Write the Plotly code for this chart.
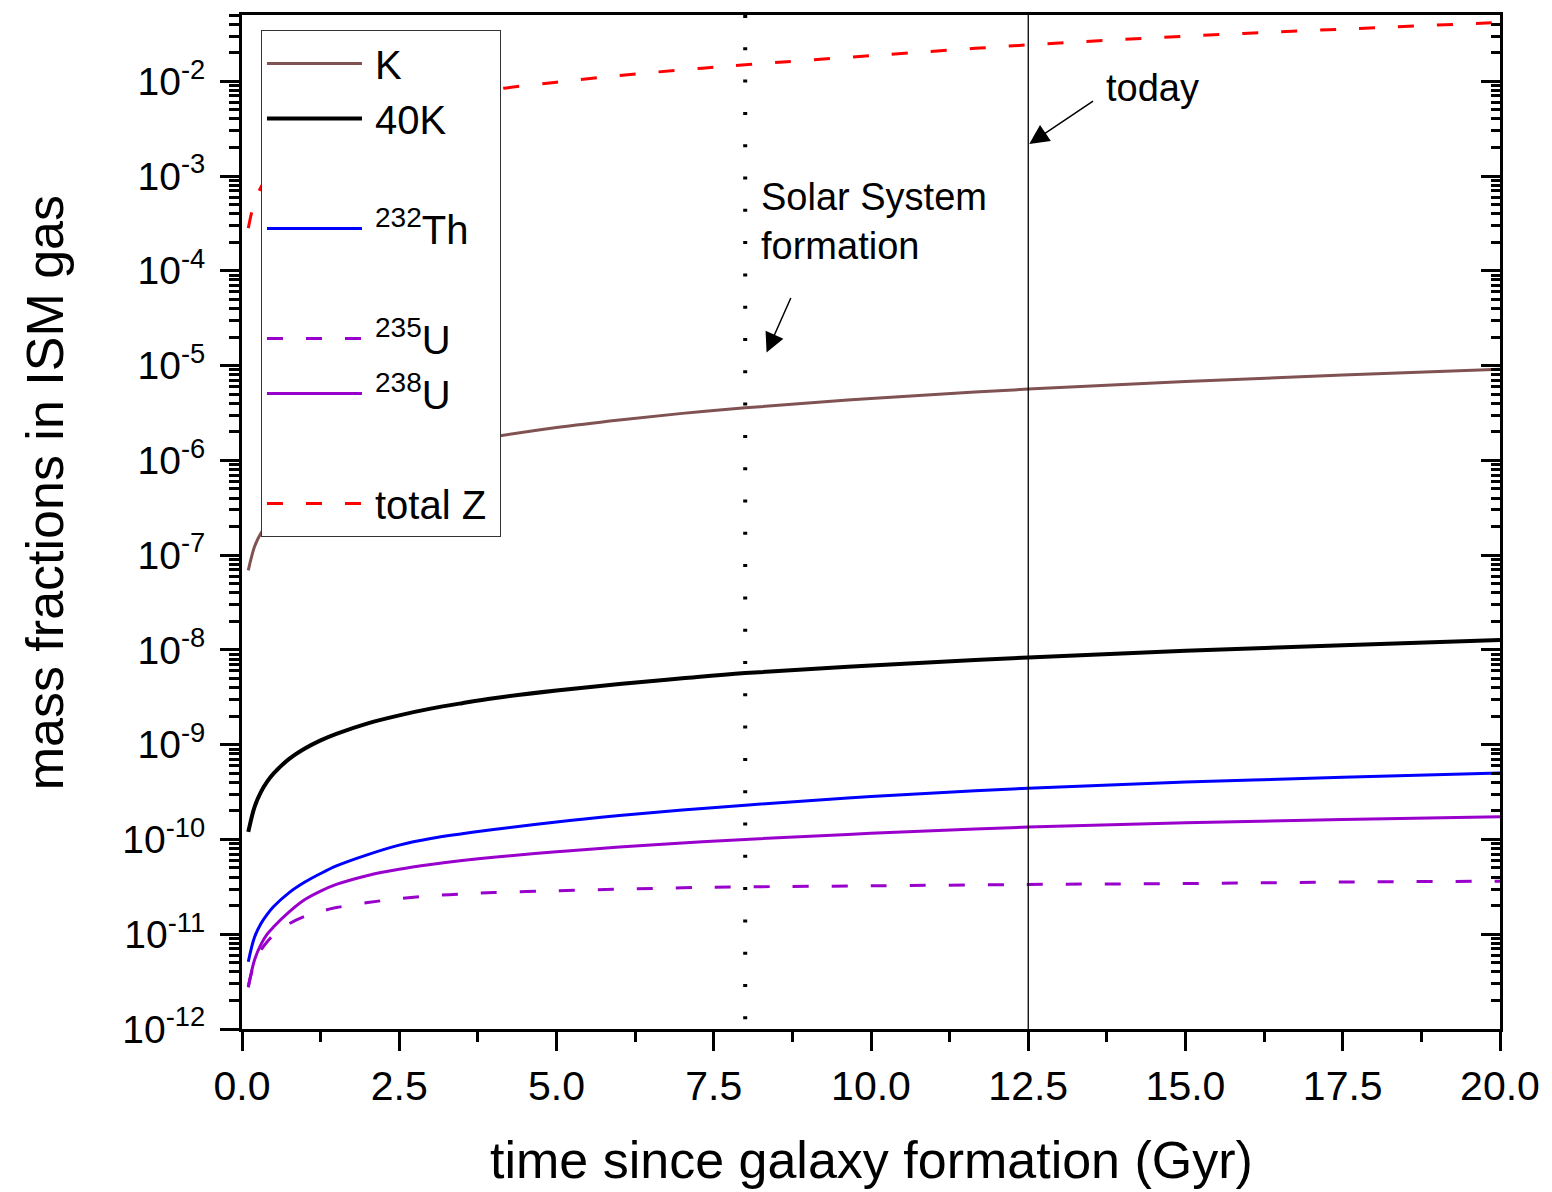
import plotly.graph_objects as go

# ---------------- data ----------------
t_gyr = [0.1, 0.2, 0.3, 0.4, 0.5, 0.75, 1.0, 1.25, 1.5, 2.0, 2.5, 3.0, 3.5, 4.0,
         5.0, 6.0, 7.0, 8.0, 10.0, 12.5, 15.0, 17.5, 20.0]

K_total = [6.9e-8, 1.23e-7, 1.70e-7, 2.09e-7, 2.45e-7, 3.31e-7, 4.27e-7, 5.37e-7, 6.46e-7,
           8.71e-7, 1.10e-6, 1.32e-6, 1.55e-6, 1.77e-6, 2.22e-6, 2.67e-6, 3.13e-6, 3.58e-6,
           4.50e-6, 5.65e-6, 6.79e-6, 7.94e-6, 9.12e-6]

K40 = [1.20e-10, 2.21e-10, 3.16e-10, 4.07e-10, 4.95e-10, 7.08e-10, 9.12e-10, 1.11e-9, 1.30e-9,
       1.68e-9, 2.04e-9, 2.40e-9, 2.74e-9, 3.09e-9, 3.72e-9, 4.37e-9, 5.01e-9, 5.69e-9,
       6.84e-9, 8.32e-9, 9.77e-9, 1.12e-8, 1.27e-8]

Th232 = [5.13e-12, 9.33e-12, 1.29e-11, 1.62e-11, 1.95e-11, 2.75e-11, 3.55e-11, 4.37e-11, 5.25e-11,
         6.92e-11, 8.71e-11, 1.023e-10, 1.148e-10, 1.274e-10, 1.531e-10, 1.786e-10, 2.042e-10,
         2.301e-10, 2.831e-10, 3.47e-10, 4.03e-10, 4.52e-10, 5.01e-10]

U235 = [2.82e-12, 5.01e-12, 6.76e-12, 8.32e-12, 9.77e-12, 1.29e-11, 1.55e-11, 1.74e-11, 1.91e-11,
        2.16e-11, 2.37e-11, 2.54e-11, 2.66e-11, 2.75e-11, 2.88e-11, 2.99e-11, 3.09e-11, 3.16e-11,
        3.24e-11, 3.35e-11, 3.43e-11, 3.55e-11, 3.63e-11]

U238 = [2.75e-12, 5.37e-12, 7.76e-12, 1.0e-11, 1.19e-11, 1.72e-11, 2.32e-11, 2.85e-11, 3.35e-11,
        4.17e-11, 4.84e-11, 5.43e-11, 5.98e-11, 6.49e-11, 7.41e-11, 8.32e-11, 9.18e-11, 1.0e-10,
        1.16e-10, 1.35e-10, 1.50e-10, 1.62e-10, 1.74e-10]

Z_total = [2.82e-4, 5.37e-4, 7.59e-4, 9.77e-4, 1.17e-3, 1.66e-3, 2.14e-3, 2.57e-3, 3.02e-3,
           3.89e-3, 4.9e-3, 5.89e-3, 6.92e-3, 8.13e-3, 9.77e-3, 1.15e-2, 1.32e-2, 1.49e-2,
           1.86e-2, 2.42e-2, 2.99e-2, 3.55e-2, 4.17e-2]

solar_formation_gyr = 8.0
today_gyr = 12.5

x_ticks = [0.0, 2.5, 5.0, 7.5, 10.0, 12.5, 15.0, 17.5, 20.0]
y_exponents = list(range(-12, -1))
y_tick_labels = ["10<sup>%d</sup>" % e for e in y_exponents]

# ---------------- geometry helpers ----------------
W, H = 1552, 1192
ML, MR, MT, MB = 242, 50, 15, 163
PW, PH = W - ML - MR, H - MT - MB


def px(x):
    return (x - ML) / PW


def py(y):
    return (H - MB - y) / PH


FONT = "Liberation Sans, Arial, sans-serif"
DASH = "16px,23px"
SP = "\u2009"

fig = go.Figure()

series = [
    ("K", K_total, "#805252", 3, None, "g1", "y"),
    ("40K", K40, "black", 4, None, "g1", "y"),
    ("<sup>232</sup>Th", Th232, "#0000ff", 3, None, "g2", "y"),
    ("<sup>235</sup>U", U235, "#9900cc", 3, DASH, "g3", "y"),
    ("<sup>238</sup>U", U238, "#9900cc", 3, None, "g3", "y"),
    ("total Z" + SP, Z_total, "#ff0000", 3, DASH, "g4", "y2"),
]
for name, vals, col, lw, dash, grp, yax in series:
    fig.add_trace(go.Scatter(
        x=t_gyr, y=vals, mode="lines", name=SP + name, legendgroup=grp, yaxis=yax,
        line=dict(color=col, width=lw, dash=dash, shape="spline", smoothing=1.0)))

# reference lines
fig.add_shape(type="line", xref="x", yref="paper", x0=solar_formation_gyr, x1=solar_formation_gyr,
              y0=1, y1=0, line=dict(color="black", width=4, dash="3px,29.3px"))
fig.add_shape(type="line", xref="x", yref="paper", x0=today_gyr, x1=today_gyr,
              y0=1, y1=0, line=dict(color="black", width=1.3))

yr = [-12, -1.301]
minor_y = [k * 10.0 ** e for e in range(-12, -1) for k in range(2, 10)]

axis_common = dict(showline=True, linewidth=3, linecolor="black", showgrid=False,
                   zeroline=False, tickwidth=3, tickcolor="black")

fig.update_layout(
    width=W, height=H,
    margin=dict(l=ML, r=MR, t=MT, b=MB),
    paper_bgcolor="white", plot_bgcolor="white",
    font=dict(family=FONT, color="black", size=40),
    showlegend=True,
    legend=dict(x=px(261), y=py(30), xanchor="left", yanchor="top",
                bgcolor="white", bordercolor="#333333", borderwidth=1,
                font=dict(size=40, family=FONT), itemwidth=95,
                traceorder="grouped", tracegroupgap=55),
    xaxis=dict(range=[0, 20], tickvals=x_ticks, ticktext=["%.1f" % v for v in x_ticks],
               ticks="outside", ticklen=19, mirror=True,
               minor=dict(dtick=1.25, ticks="outside", ticklen=10, tickwidth=3, tickcolor="black"),
               tickfont=dict(size=41), **axis_common),
    yaxis=dict(type="log", range=yr, tickvals=[10.0 ** e for e in y_exponents],
               ticktext=y_tick_labels, ticks="outside", ticklen=19,
               minor=dict(tickvals=minor_y, ticks="outside", ticklen=10, tickwidth=3, tickcolor="black"),
               tickfont=dict(size=39), ticklabelstandoff=7, **axis_common),
    yaxis2=dict(type="log", range=yr, overlaying="y", side="right",
                tickvals=[10.0 ** e for e in y_exponents], showticklabels=False,
                ticks="inside", ticklen=19,
                minor=dict(tickvals=minor_y, ticks="inside", ticklen=9, tickwidth=3, tickcolor="black"),
                **axis_common),
)

annotations = [
    dict(text="time since galaxy formation (Gyr)", x=px(872), y=py(1160), xref="paper", yref="paper",
         showarrow=False, font=dict(size=52), xanchor="center", yanchor="middle"),
    dict(text="mass fractions in ISM gas", x=px(45), y=py(493), xref="paper", yref="paper",
         showarrow=False, font=dict(size=52), textangle=-90, xanchor="center", yanchor="middle"),
    dict(text="today", x=px(1105), y=py(88), xref="paper", yref="paper",
         showarrow=False, font=dict(size=38), xanchor="left", yanchor="middle"),
    dict(text="Solar System<br>formation", x=px(760), y=py(221), xref="paper", yref="paper",
         showarrow=False, font=dict(size=38), xanchor="left", yanchor="middle", align="left"),
    dict(text="", x=px(1030.5), y=py(143.9), xref="paper", yref="paper",
         showarrow=True, ax=65.3, ay=-43.9, arrowhead=2, arrowsize=2.6, arrowwidth=1.5,
         arrowcolor="black"),
    dict(text="", x=px(767.4), y=py(352.6), xref="paper", yref="paper",
         showarrow=True, ax=24.9, ay=-56.1, arrowhead=2, arrowsize=2.6, arrowwidth=1.5,
         arrowcolor="black"),
]
fig.update_layout(annotations=annotations)

fig.write_html("out.html", config={"displayModeBar": False},
               post_script="document.body.style.margin='0';")
